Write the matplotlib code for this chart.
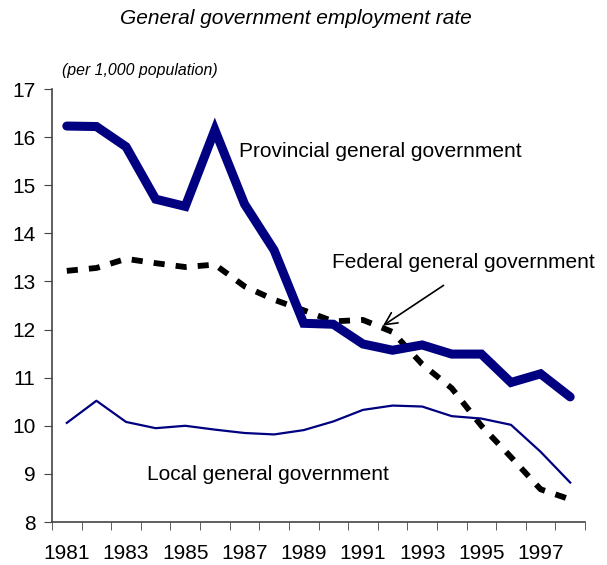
import matplotlib
matplotlib.use("Agg")
import matplotlib.pyplot as plt
import numpy as np

years = list(range(1981, 1999))
provincial = [16.23, 16.22, 15.80, 14.71, 14.56, 16.15, 14.61, 13.65, 12.13, 12.11,
              11.70, 11.57, 11.68, 11.49, 11.49, 10.90, 11.08, 10.60]
federal = [13.22, 13.28, 13.47, 13.38, 13.30, 13.35, 12.90, 12.62, 12.40, 12.17,
           12.20, 11.95, 11.28, 10.78, 10.00, 9.35, 8.68, 8.47]
local = [10.06, 10.52, 10.08, 9.95, 10.00, 9.92, 9.85, 9.82, 9.91, 10.09,
         10.33, 10.42, 10.40, 10.20, 10.15, 10.02, 9.46, 8.82]
tick_labels = [str(y) for y in years[::2]]

plt.rcParams['font.family'] = ['Liberation Sans', 'DejaVu Sans']

fig = plt.figure(figsize=(6.07, 5.65), dpi=100)
ax = fig.add_axes([52/607, 1-522/565, (585-52)/607, (522-89)/565])

x = np.arange(len(years))
navy = '#000080'
ax.plot(x, federal, color='black', lw=4.2, dashes=(1.9, 1.9), solid_capstyle='butt',
        dash_capstyle='butt', zorder=2)
ax.plot(x, provincial, color=navy, lw=6.5, solid_capstyle='round', solid_joinstyle='miter', zorder=3)
ax.plot(x, local, color=navy, lw=1.6, zorder=3)

ax.set_xlim(-0.5, len(years) - 0.5)
ax.set_ylim(8, 17)
ax.set_yticks(range(8, 18))
ax.set_xticks(x[::2])
ax.set_xticklabels(tick_labels)
ax.set_xticks(np.arange(-0.5, len(years)), minor=True)
ax.tick_params(axis='x', which='major', length=0, pad=16, labelsize=15)
ax.tick_params(axis='x', which='minor', length=6, direction='out', color='#444444')
ax.tick_params(axis='y', length=6, direction='out', labelsize=15, pad=6, color='#444444')
for s in ['top', 'right']:
    ax.spines[s].set_visible(False)
for s in ['left', 'bottom']:
    ax.spines[s].set_color('#444444')
    ax.spines[s].set_linewidth(1.2)

fig.text(296/607, 1-18/565, 'General government employment rate', ha='center', va='center',
         fontsize=15, style='italic')
fig.text(62/607, 1-70/565, '(per 1,000 population)', ha='left', va='center',
         fontsize=11.4, style='italic')

ax.text(5.8, 15.7, 'Provincial general government', fontsize=15, ha='left', va='center')
ax.text(8.95, 13.4, 'Federal general government', fontsize=15, ha='left', va='center')
ax.text(2.7, 8.98, 'Local general government', fontsize=15, ha='left', va='center')
ax.annotate('', xy=(10.6, 12.05), xytext=(12.8, 12.95),
            arrowprops=dict(arrowstyle='->', color='black', lw=1.2, mutation_scale=22))

fig.savefig('out.png', dpi=100)
